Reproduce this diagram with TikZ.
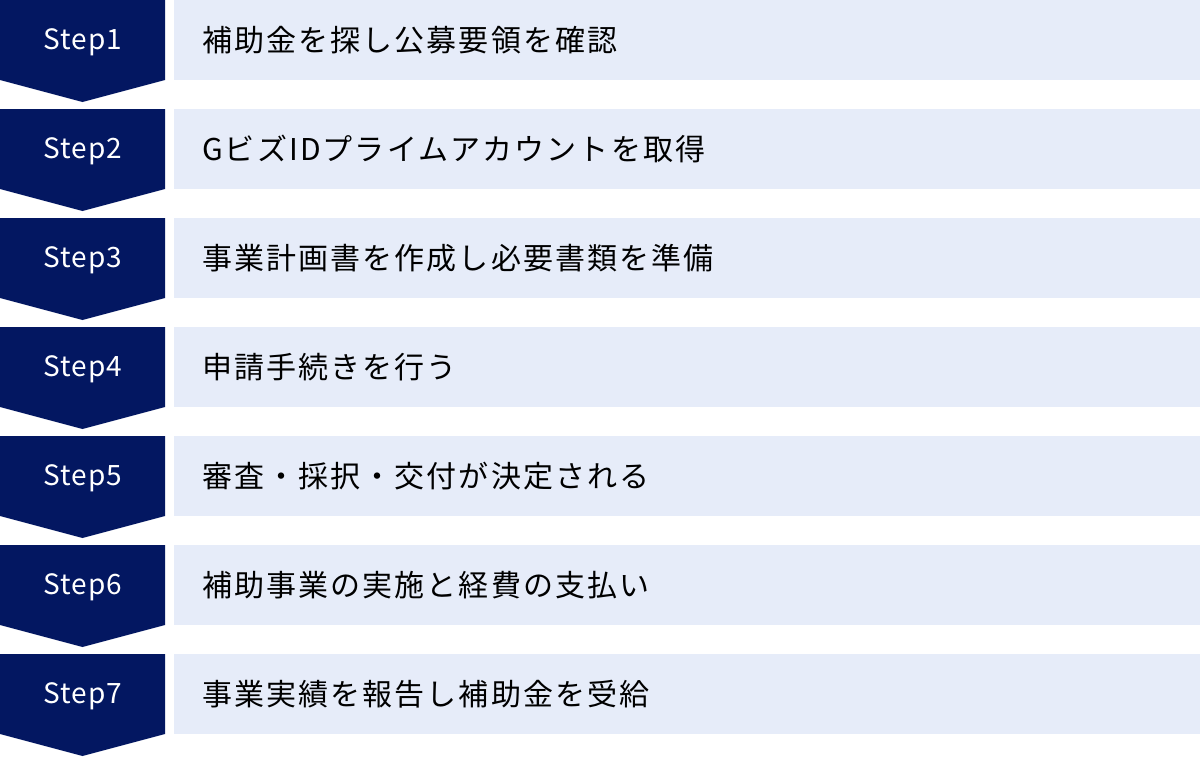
\documentclass[tikz,border=0pt]{standalone}
\usepackage{fontspec}
\setmainfont{Noto Sans CJK JP}
\newfontfamily\jpfont{Noto Sans CJK JP}[LetterSpace=7]
\newfontfamily\tagfont{Noto Sans CJK JP}[LetterSpace=4]
\usepackage{xcolor}
\definecolor{stepnavy}{RGB}{3,23,97}
\definecolor{stepback}{RGB}{230,236,249}

\tikzset{
  steptag/.style={fill=stepnavy},
  stepbox/.style={fill=stepback},
  taglabel/.style={text=white, inner sep=0pt, font=\tagfont\fontsize{28}{34}\selectfont},
  itemlabel/.style={text=black, inner sep=0pt, anchor=west, font=\jpfont\fontsize{30}{36}\selectfont}
}

\begin{document}
\begin{tikzpicture}[x=1pt,y=-1pt]

\useasboundingbox (0,0) rectangle (1200,756);

\foreach \n/\txt in {1/補助金を探し公募要領を確認,
                     2/GビズIDプライムアカウントを取得,
                     3/事業計画書を作成し必要書類を準備,
                     4/申請手続きを行う,
                     5/審査・採択・交付が決定される,
                     6/補助事業の実施と経費の支払い,
                     7/事業実績を報告し補助金を受給}
{
\pgfmathsetmacro{\y}{109*(\n-1)}

% chevron
\fill[steptag] (0,\y)--++(165,0)--++(0,80)--++(-82.5,22)--++(-82.5,-22)--cycle;

% box
\fill[stepbox] (174,\y) rectangle ++(1026,80);

\node[taglabel] (tag\n) at (83,\y+42) {Step\n};
\node[itemlabel] (item\n) at (202,\y+40) {\txt};
}
\end{tikzpicture}
\end{document}
